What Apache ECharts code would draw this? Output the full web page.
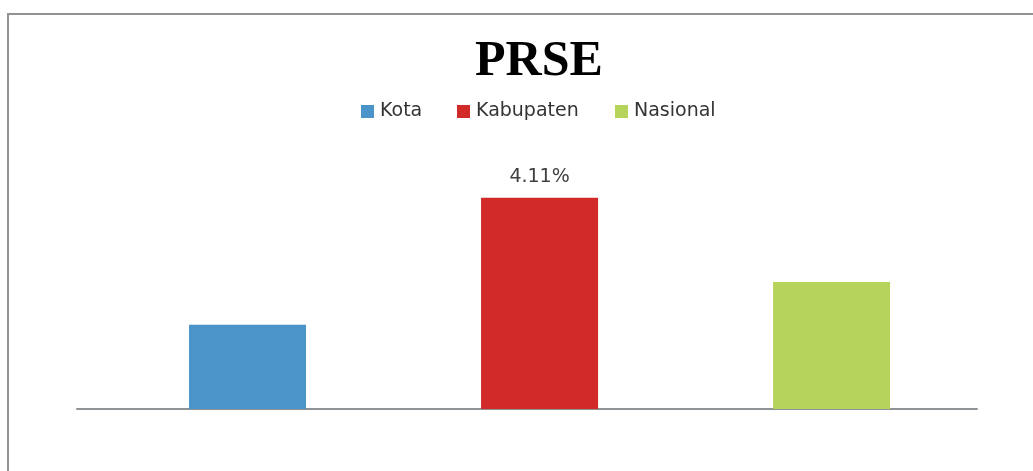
<!DOCTYPE html>
<html>
<head>
<meta charset="utf-8">
<script src="https://cdn.jsdelivr.net/npm/echarts@6/dist/echarts.min.js"></script>
<style>
html,body{margin:0;padding:0;background:#fff;}
#chart{width:1033px;height:471px;}
</style>
</head>
<body>
<div id="chart"></div>
<script>
var titleText = 'PRSE';
var categories = ['Kota', 'Kabupaten', 'Nasional'];
var values = [1.64, 4.11, 2.47];
var labelShown = [false, true, false];
var colors = ['#4b94c9', '#d12a29', '#b6d35b'];
var legendLeft = [361, 457, 615];

var chart = echarts.init(document.getElementById('chart'));
var series = categories.map(function (name, i) {
  return {
    name: name,
    type: 'bar',
    barWidth: 117,
    barGap: '-100%',
    itemStyle: { color: colors[i] },
    label: {
      show: labelShown[i],
      position: 'top',
      distance: 11,
      formatter: function (p) { return p.value[1].toFixed(2) + '%'; },
      fontFamily: 'DejaVu Sans',
      fontSize: 19,
      color: '#404040'
    },
    data: [[i, values[i]]]
  };
});

var legends = categories.map(function (name, i) {
  return {
    top: 102,
    left: legendLeft[i],
    padding: 0,
    itemWidth: 13,
    itemHeight: 13,
    itemGap: 0,
    icon: 'rect',
    textStyle: { fontFamily: 'DejaVu Sans', fontSize: 19, color: '#333', padding: [0, 0, 0, 1] },
    data: [name]
  };
});

chart.setOption({
  animation: false,
  backgroundColor: '#ffffff',
  graphic: [{
    type: 'rect',
    shape: { x: 8, y: 14, width: 1200, height: 700 },
    style: { fill: null, stroke: '#8f9396', lineWidth: 2 },
    silent: true
  }],
  title: {
    text: titleText,
    left: 470,
    top: 32,
    textStyle: { fontFamily: 'Liberation Serif', fontWeight: 'bold', fontSize: 50, color: '#000' }
  },
  legend: legends,
  grid: { left: 77, right: 56, top: 152, bottom: 62 },
  xAxis: {
    type: 'value',
    min: -0.584,
    max: 2.498,
    axisLine: { show: true, onZero: true, lineStyle: { color: '#8f9396', width: 2 } },
    axisTick: { show: false },
    axisLabel: { show: false },
    splitLine: { show: false }
  },
  yAxis: {
    type: 'value',
    min: 0,
    max: 5,
    show: false,
    splitLine: { show: false }
  },
  series: series
});
</script>
</body>
</html>
